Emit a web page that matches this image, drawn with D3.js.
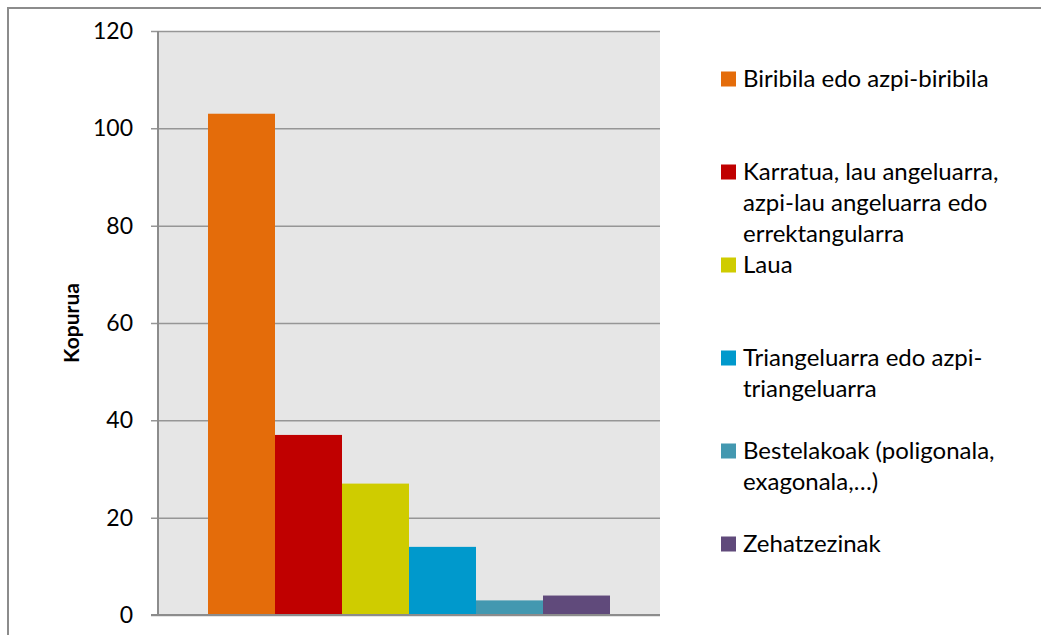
<!DOCTYPE html>
<html>
<head>
<meta charset="utf-8">
<script src="https://cdn.jsdelivr.net/npm/d3@7"></script>
<style>
  body { margin: 0; background: #fff; }
  svg { display: block; font-family: Lato, "Open Sans", sans-serif; }
</style>
</head>
<body>
<div id="chart"></div>
<script>
// Data
var seriesNames = [
  "Biribila edo azpi-biribila",
  "Karratua, lau angeluarra, azpi-lau angeluarra edo errektangularra",
  "Laua",
  "Triangeluarra edo azpi-triangeluarra",
  "Bestelakoak (poligonala, exagonala,…)",
  "Zehatzezinak"
];
var legendLines = [
  ["Biribila edo azpi-biribila"],
  ["Karratua, lau angeluarra,", "azpi-lau angeluarra edo", "errektangularra"],
  ["Laua"],
  ["Triangeluarra edo azpi-", "triangeluarra"],
  ["Bestelakoak (poligonala,", "exagonala,…)"],
  ["Zehatzezinak"]
];
var values = [103, 37, 27, 14, 3, 4];
var colors = ["#e46c0a", "#c00000", "#cfcc00", "#0099cc", "#4398b0", "#604a7b"];
var yTicks = [0, 20, 40, 60, 80, 100, 120];

var width = 1041, height = 635;
var plot = {left: 158, right: 660, top: 31, bottom: 615};

var svg = d3.select("#chart")
  .append("svg")
    .attr("width", width)
    .attr("height", height);

// outer frame
svg.append("rect")
  .attr("x", 8).attr("y", 8)
  .attr("width", width + 20).attr("height", height + 20)
  .attr("fill", "#fff")
  .attr("stroke", "#8c8c8c")
  .attr("stroke-width", 2);

// scales
var y = d3.scaleLinear().domain([0, 120]).range([plot.bottom, plot.top]);
var x = d3.scaleBand()
  .domain(seriesNames)
  .range([208, 610])
  .padding(0);

// plot background
svg.append("rect")
  .attr("x", plot.left).attr("y", plot.top)
  .attr("width", plot.right - plot.left)
  .attr("height", plot.bottom - plot.top)
  .attr("fill", "#e6e6e6");

// gridlines + tick labels via axis
var yAxis = d3.axisLeft(y)
  .tickValues(yTicks)
  .tickSize(-(plot.right - plot.left))
  .tickPadding(25);

var gAxis = svg.append("g")
  .attr("transform", "translate(" + plot.left + ",0)")
  .call(yAxis);

gAxis.select(".domain").remove();
gAxis.selectAll(".tick line")
  .attr("x1", -7)
  .attr("stroke", "#969696")
  .attr("stroke-width", 1.5);
gAxis.selectAll(".tick text")
  .attr("fill", "#000")
  .style("font-size", "23px")
  .style("font-family", "Lato, 'Open Sans', sans-serif");

// bars
svg.selectAll("rect.bar")
  .data(values)
  .enter()
  .append("rect")
    .attr("class", "bar")
    .attr("x", function(d, i) { return x(seriesNames[i]); })
    .attr("width", x.bandwidth())
    .attr("y", function(d) { return y(d); })
    .attr("height", function(d) { return y(0) - y(d); })
    .attr("fill", function(d, i) { return colors[i]; });

// axis lines
svg.append("line")
  .attr("x1", plot.left).attr("x2", plot.left)
  .attr("y1", plot.top).attr("y2", plot.bottom)
  .attr("stroke", "#8c8c8c").attr("stroke-width", 2);
svg.append("line")
  .attr("x1", plot.left - 7).attr("x2", plot.right)
  .attr("y1", y(0)).attr("y2", y(0))
  .attr("stroke", "#8c8c8c").attr("stroke-width", 2);

// y axis title
svg.append("text")
  .attr("transform", "translate(79," + ((plot.top + plot.bottom) / 2) + ") rotate(-90)")
  .attr("text-anchor", "middle")
  .style("font-size", "21px")
  .style("font-weight", "bold")
  .text("Kopurua");

// legend
var legend = svg.append("g").attr("class", "legend");
var item = legend.selectAll("g")
  .data(legendLines)
  .enter()
  .append("g")
    .attr("transform", function(d, i) { return "translate(721," + (79 + i * 93) + ")"; });

item.append("rect")
  .attr("x", 0).attr("y", -7.5)
  .attr("width", 15).attr("height", 15)
  .attr("fill", function(d, i) { return colors[i]; });

item.each(function(lines) {
  var t = d3.select(this).append("text")
    .style("font-size", "24px");
  lines.forEach(function(line, j) {
    t.append("tspan")
      .attr("x", 22)
      .attr("y", j * 31)
      .attr("dy", "0.35em")
      .text(line);
  });
});
</script>
</body>
</html>
